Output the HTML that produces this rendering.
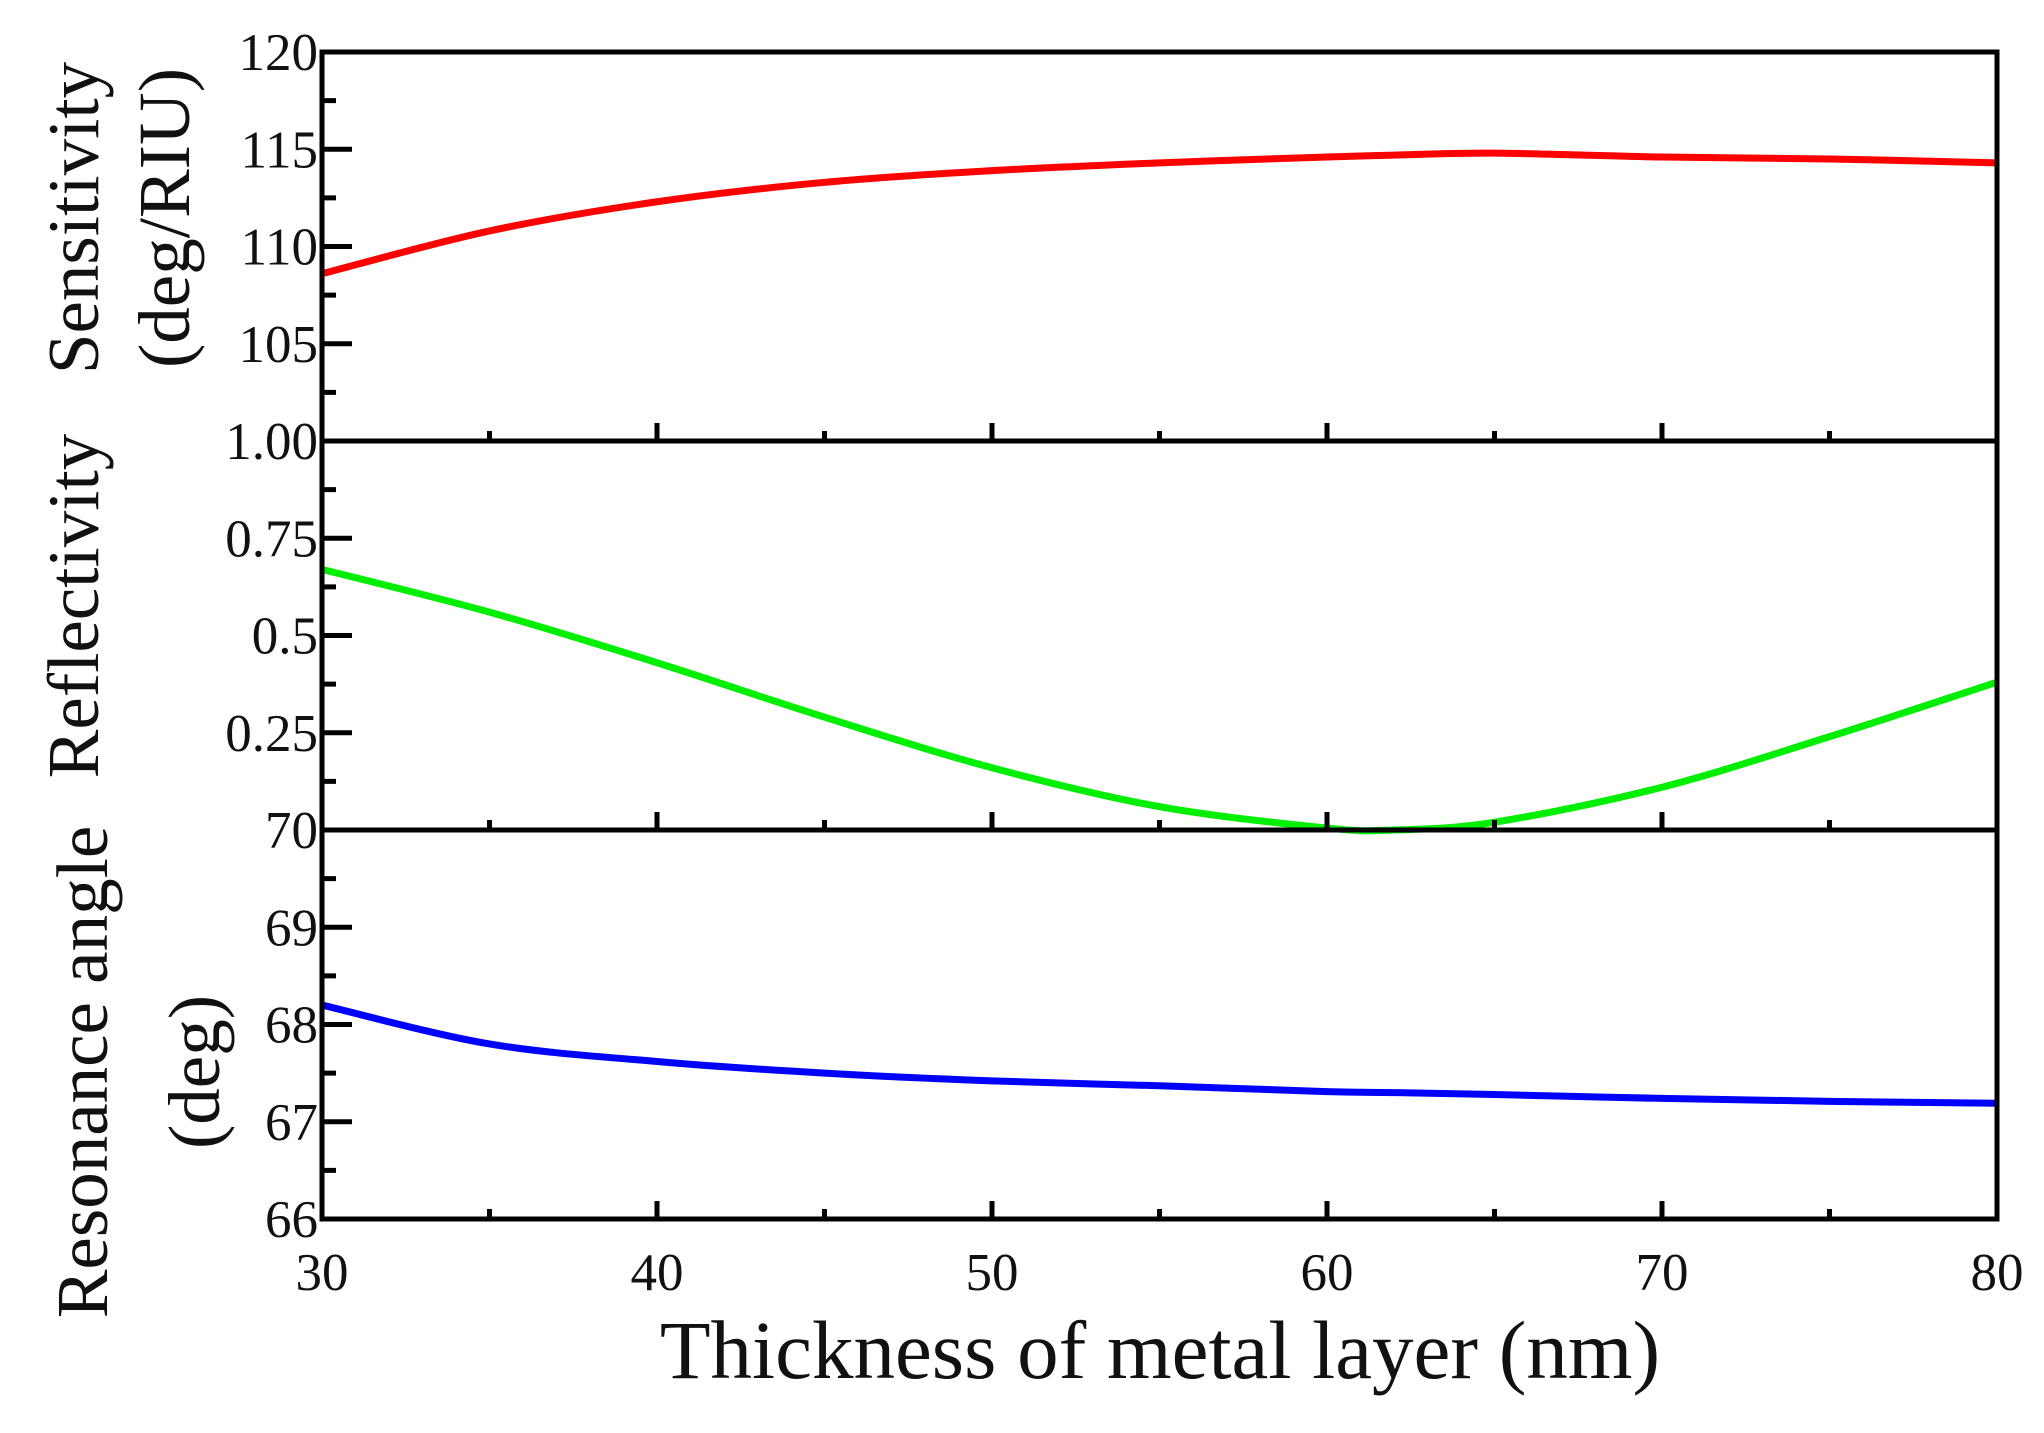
<!DOCTYPE html>
<html><head><meta charset="utf-8"><style>
html,body{margin:0;padding:0;background:#fff;}
svg text{font-family:"Liberation Serif",serif;fill:#111;}
</style></head><body>
<svg id="chart" width="2044" height="1428" viewBox="0 0 2044 1428" xmlns="http://www.w3.org/2000/svg">
<g id="g"></g>
</svg>
<script>
const xValues=[30,35,40,45,50,55,60,62,65,70,75,80];
const sensitivity=[108.6,110.8,112.3,113.3,113.9,114.3,114.6,114.7,114.8,114.6,114.5,114.3];
const reflectivity=[0.67,0.56,0.43,0.29,0.16,0.06,0.005,0.0,0.02,0.11,0.24,0.38];
const resonance=[68.2,67.8,67.62,67.5,67.42,67.37,67.31,67.3,67.28,67.24,67.21,67.19];
const xTicks=[30,40,50,60,70,80];
const sensTicks=["120","115","110","105"];
const reflTicks=["1.00","0.75","0.5","0.25"];
const resTicks=["70","69","68","67","66"];
const NS="http://www.w3.org/2000/svg";
const g=document.getElementById('g');
const L=322,R=1997;
const panels=[{top:52,bot:441,min:100,max:120,data:sensitivity,color:"#ff0000",name:"sensitivity"},
{top:441,bot:830,min:0,max:1,data:reflectivity,color:"#00ee00",name:"reflectivity"},
{top:830,bot:1219,min:66,max:70,data:resonance,color:"#0000ff",name:"resonance-angle"}];
const xs=v=>L+(v-30)/50*(R-L);
function mk(t,a){const e=document.createElementNS(NS,t);for(const k in a)e.setAttribute(k,a[k]);g.appendChild(e);return e;}
panels.forEach((p,i)=>{
 const ys=v=>p.bot-(v-p.min)/(p.max-p.min)*(p.bot-p.top);
 const pts=p.data.map((v,j)=>[xs(xValues[j]),ys(v)]);
 let d="M"+pts[0][0]+","+pts[0][1];
 for(let j=0;j<pts.length-1;j++){const p0=pts[j-1]||pts[j],p1=pts[j],p2=pts[j+1],p3=pts[j+2]||p2;
  d+=`C${p1[0]+(p2[0]-p0[0])/6},${p1[1]+(p2[1]-p0[1])/6} ${p2[0]-(p3[0]-p1[0])/6},${p2[1]-(p3[1]-p1[1])/6} ${p2[0]},${p2[1]}`;}
 const line=mk('path',{d:d,fill:'none',stroke:p.color,'stroke-width':7});
 
 
 const fr=mk('rect',{x:L,y:p.top,width:R-L,height:p.bot-p.top,fill:'none',stroke:'#000','stroke-width':5});
 
 
 const step=(p.max-p.min)/4;
 for(let k=1;k<8;k++){const v=p.min+k*step/2;const y=ys(v);const major=k%2==0;
  mk('line',{x1:L,x2:L+(major?30:14),y1:y,y2:y,stroke:'#000','stroke-width':5});}
 for(let v=35;v<80;v+=5){const major=v%10==0;mk('line',{x1:xs(v),x2:xs(v),y1:p.bot,y2:p.bot-(major?18:10),stroke:'#000','stroke-width':5});}
});
function txt(s,x,y,size,anchor,rot,name){const e=mk('text',{x:x,y:y,'font-size':size,'text-anchor':anchor});
 if(rot)e.setAttribute('transform',`rotate(-90 ${x} ${y})`);e.textContent=s;
 
 return e;}
const lab=(arr,p,name)=>arr.forEach((s,k)=>{const y=p.top+k*(p.bot-p.top)/4;txt(s,318,y+18,53,'end',false,name+'-tick-label');});
lab(sensTicks,panels[0],'sensitivity');lab(reflTicks,panels[1],'reflectivity');lab(resTicks,panels[2],'resonance');
xTicks.forEach(v=>txt(String(v),xs(v),1290,53,'middle',false,'x-tick-label'));
txt("Thickness of metal layer (nm)",1160,1378,83,'middle',false,'x-axis-title');
txt("Sensitivity",98,218,73,'middle',true,'sensitivity-axis-title');
txt("(deg/RIU)",189,218,73,'middle',true,'sensitivity-unit');
txt("Reflectivity",98,606,73,'middle',true,'reflectivity-axis-title');
txt("Resonance angle",107,1072,73,'middle',true,'resonance-axis-title');
txt("(deg)",219,1072,73,'middle',true,'resonance-unit');
</script>
</body></html>
